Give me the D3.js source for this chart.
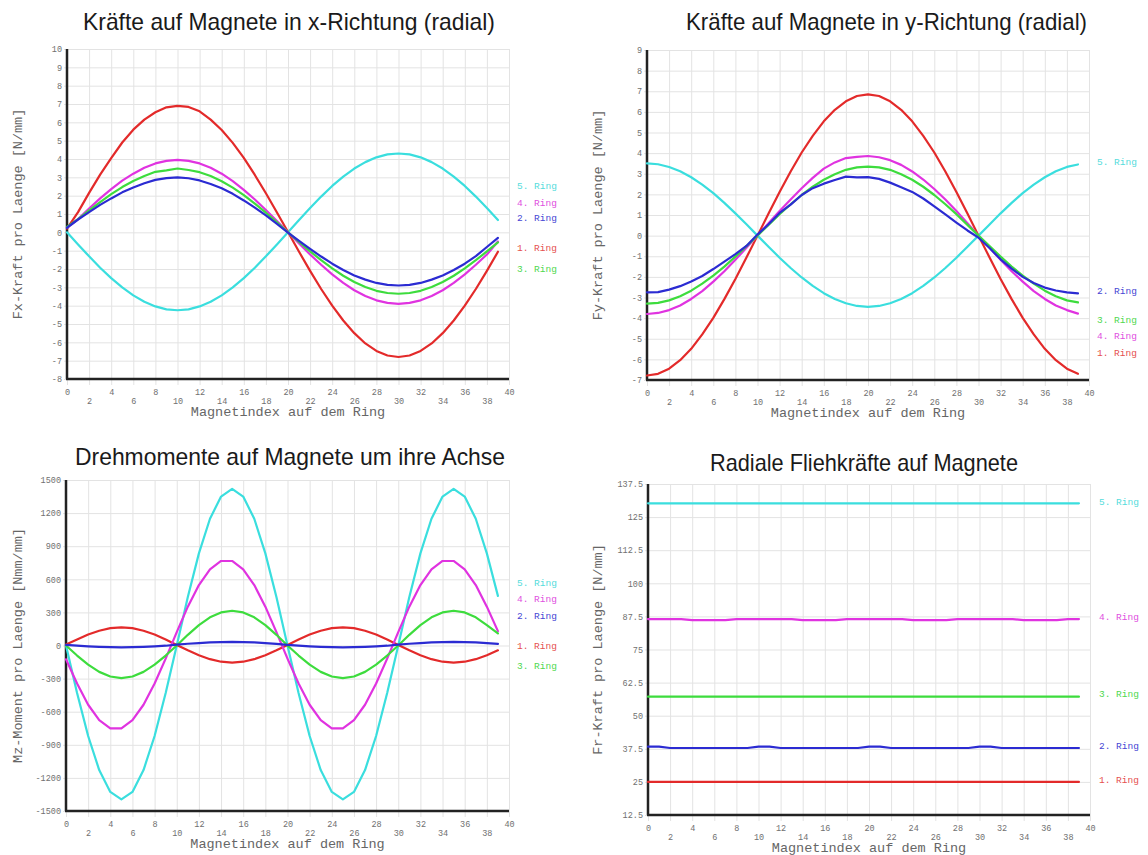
<!DOCTYPE html>
<html>
<head>
<meta charset="utf-8">
<script src="https://cdn.jsdelivr.net/npm/d3@7"></script>
<style>
  body { margin: 0; background: #fff; }
  svg { display: block; }
</style>
</head>
<body>
<svg id="chart" width="1148" height="855"></svg>
<script>
// ---- data ---------------------------------------------------------------
const magnetIndex = [0,1,2,3,4,5,6,7,8,9,10,11,12,13,14,15,16,17,18,19,
                     20,21,22,23,24,25,26,27,28,29,30,31,32,33,34,35,36,37,38,39];
const xTicks = [0,2,4,6,8,10,12,14,16,18,20,22,24,26,28,30,32,34,36,38,40];

const ringLabels = ["1. Ring", "2. Ring", "3. Ring", "4. Ring", "5. Ring"];

// Fx force per length [N/mm]
const fxTicks = [-8,-7,-6,-5,-4,-3,-2,-1,0,1,2,3,4,5,6,7,8,9,10];
const fxRing1 = [0.2, 1.1, 2.15, 3.15, 4.05, 4.9, 5.6, 6.15, 6.55, 6.82, 6.9, 6.84, 6.6, 6.15, 5.58, 4.88, 4.06, 3.13, 2.13, 1.08,
                 0.02, -1.06, -2.1, -3.09, -4.0, -4.81, -5.5, -6.06, -6.47, -6.72, -6.8, -6.72, -6.47, -6.06, -5.5, -4.81, -4.0, -3.09, -2.1, -1.06];
const fxRing2 = [0.25, 0.7, 1.1, 1.5, 1.85, 2.18, 2.45, 2.68, 2.86, 2.96, 3.0, 2.95, 2.83, 2.64, 2.4, 2.1, 1.74, 1.35, 0.92, 0.46,
                 -0.02, -0.46, -0.9, -1.32, -1.71, -2.05, -2.35, -2.58, -2.76, -2.87, -2.9, -2.87, -2.76, -2.58, -2.35, -2.05, -1.71, -1.3, -0.8, -0.3];
const fxRing3 = [0.3, 0.72, 1.2, 1.65, 2.08, 2.47, 2.8, 3.07, 3.3, 3.38, 3.48, 3.4, 3.28, 3.07, 2.79, 2.44, 2.03, 1.57, 1.07, 0.54,
                 0.0, -0.52, -1.04, -1.52, -1.97, -2.37, -2.71, -2.98, -3.19, -3.31, -3.35, -3.31, -3.19, -2.98, -2.71, -2.37, -1.97, -1.52, -1.04, -0.55];
const fxRing4 = [0.25, 0.72, 1.3, 1.85, 2.36, 2.82, 3.2, 3.52, 3.76, 3.9, 3.95, 3.9, 3.76, 3.52, 3.2, 2.79, 2.32, 1.79, 1.22, 0.62,
                 0.0, -0.61, -1.21, -1.77, -2.29, -2.76, -3.16, -3.47, -3.71, -3.85, -3.9, -3.85, -3.71, -3.47, -3.16, -2.76, -2.29, -1.77, -1.21, -0.5];
const fxRing5 = [0.0, -0.66, -1.31, -1.93, -2.5, -3.0, -3.44, -3.79, -4.04, -4.2, -4.25, -4.2, -4.04, -3.79, -3.44, -3.0, -2.5, -1.93, -1.31, -0.66,
                 0.0, 0.67, 1.33, 1.95, 2.53, 3.04, 3.48, 3.83, 4.09, 4.25, 4.3, 4.25, 4.09, 3.83, 3.48, 3.04, 2.53, 1.95, 1.33, 0.67];

// Fy force per length [N/mm]
const fyTicks = [-7,-6,-5,-4,-3,-2,-1,0,1,2,3,4,5,6,7,8,9];
const fyRing1 = [-6.78, -6.7, -6.45, -6.04, -5.49, -4.79, -3.99, -3.08, -2.1, -1.06, 0.0, 1.07, 2.12, 3.11, 4.03, 4.84, 5.54, 6.1, 6.51, 6.77,
                 6.85, 6.77, 6.51, 6.1, 5.54, 4.84, 4.03, 3.11, 2.12, 1.07, 0.0, -1.06, -2.1, -3.08, -3.99, -4.79, -5.49, -6.04, -6.45, -6.7];
const fyRing2 = [-2.75, -2.74, -2.62, -2.45, -2.22, -1.96, -1.62, -1.26, -0.9, -0.5, 0.05, 0.55, 1.1, 1.5, 1.97, 2.3, 2.52, 2.7, 2.86, 2.82,
                 2.84, 2.75, 2.57, 2.35, 2.12, 1.8, 1.42, 1.03, 0.63, 0.25, -0.1, -0.6, -1.15, -1.6, -2.0, -2.3, -2.52, -2.66, -2.75, -2.8];
const fyRing3 = [-3.3, -3.26, -3.14, -2.94, -2.67, -2.33, -1.94, -1.5, -1.02, -0.51, 0.0, 0.52, 1.04, 1.52, 1.97, 2.37, 2.71, 2.98, 3.19, 3.31,
                 3.35, 3.31, 3.19, 2.98, 2.71, 2.37, 1.97, 1.52, 1.04, 0.52, 0.0, -0.51, -1.02, -1.5, -1.94, -2.33, -2.67, -2.94, -3.14, -3.24];
const fyRing4 = [-3.8, -3.75, -3.61, -3.39, -3.07, -2.69, -2.23, -1.73, -1.17, -0.59, 0.0, 0.6, 1.19, 1.75, 2.3, 2.8, 3.25, 3.55, 3.76, 3.82,
                 3.86, 3.8, 3.66, 3.43, 3.11, 2.72, 2.26, 1.75, 1.19, 0.6, 0.0, -0.59, -1.17, -1.73, -2.23, -2.69, -3.07, -3.39, -3.61, -3.78];
const fyRing5 = [3.5, 3.46, 3.33, 3.12, 2.83, 2.47, 2.06, 1.59, 1.08, 0.55, 0.0, -0.54, -1.07, -1.57, -2.03, -2.44, -2.79, -3.07, -3.28, -3.41,
                 -3.45, -3.41, -3.28, -3.07, -2.79, -2.44, -2.03, -1.57, -1.07, -0.54, 0.0, 0.54, 1.08, 1.59, 2.06, 2.47, 2.83, 3.12, 3.33, 3.45];

// Mz torque per length [Nmm/mm]
const mzTicks = [-1500,-1200,-900,-600,-300,0,300,600,900,1200,1500];
const mzRing1 = [10, 54, 99, 134, 157, 165, 157, 134, 99, 54, 5, -44, -89, -124, -147, -155, -147, -124, -89, -44,
                 5, 54, 99, 134, 157, 165, 157, 134, 99, 54, 5, -44, -89, -124, -147, -155, -147, -124, -89, -44];
const mzRing2 = [5, -2, -8, -12, -15, -17, -15, -12, -8, -2, 8, 16, 22, 28, 31, 33, 31, 28, 22, 15,
                 5, -2, -8, -12, -15, -17, -15, -12, -8, -2, 8, 16, 22, 28, 31, 33, 31, 28, 22, 15];
const mzRing3 = [0, -91, -173, -239, -281, -295, -281, -239, -173, -91, 0, 97, 185, 255, 300, 315, 300, 255, 185, 97,
                 0, -91, -173, -239, -281, -295, -281, -239, -173, -91, 0, 97, 185, 255, 300, 315, 300, 255, 185, 110];
const mzRing4 = [-125, -345, -537, -677, -751, -751, -677, -537, -345, -119, 121, 352, 548, 691, 766, 766, 691, 548, 352, 121,
                 -119, -345, -537, -677, -751, -751, -677, -537, -345, -119, 121, 352, 548, 691, 766, 766, 691, 548, 352, 130];
const mzRing5 = [0, -431, -820, -1129, -1327, -1395, -1327, -1129, -820, -431, 0, 439, 835, 1149, 1350, 1420, 1350, 1149, 835, 439,
                 0, -431, -820, -1129, -1327, -1395, -1327, -1129, -820, -431, 0, 439, 835, 1149, 1350, 1420, 1350, 1149, 835, 450];

// Fr centrifugal force per length [N/mm]
const frTicks = [12.5, 25, 37.5, 50, 62.5, 75, 87.5, 100, 112.5, 125, 137.5];
const frRing1 = [25, 25, 25, 25, 25, 25, 25, 25, 25, 25, 25, 25, 25, 25, 25, 25, 25, 25, 25, 25,
                 25, 25, 25, 25, 25, 25, 25, 25, 25, 25, 25, 25, 25, 25, 25, 25, 25, 25, 25, 25];
const frRing2 = [38.3, 38.3, 37.8, 37.8, 37.8, 37.8, 37.8, 37.8, 37.8, 37.8, 38.3, 38.3, 37.8, 37.8, 37.8, 37.8, 37.8, 37.8, 37.8, 37.8,
                 38.3, 38.3, 37.8, 37.8, 37.8, 37.8, 37.8, 37.8, 37.8, 37.8, 38.3, 38.3, 37.8, 37.8, 37.8, 37.8, 37.8, 37.8, 37.8, 37.8];
const frRing3 = [57.2, 57.2, 57.2, 57.2, 57.2, 57.2, 57.2, 57.2, 57.2, 57.2, 57.2, 57.2, 57.2, 57.2, 57.2, 57.2, 57.2, 57.2, 57.2, 57.2,
                 57.2, 57.2, 57.2, 57.2, 57.2, 57.2, 57.2, 57.2, 57.2, 57.2, 57.2, 57.2, 57.2, 57.2, 57.2, 57.2, 57.2, 57.2, 57.2, 57.2];
const frRing4 = [86.5, 86.5, 86.5, 86.5, 86.1, 86.1, 86.1, 86.1, 86.5, 86.5, 86.5, 86.5, 86.5, 86.5, 86.1, 86.1, 86.1, 86.1, 86.5, 86.5,
                 86.5, 86.5, 86.5, 86.5, 86.1, 86.1, 86.1, 86.1, 86.5, 86.5, 86.5, 86.5, 86.5, 86.5, 86.1, 86.1, 86.1, 86.1, 86.5, 86.5];
const frRing5 = [130.2, 130.2, 130.2, 130.2, 130.2, 130.2, 130.2, 130.2, 130.2, 130.2, 130.2, 130.2, 130.2, 130.2, 130.2, 130.2, 130.2, 130.2, 130.2, 130.2,
                 130.2, 130.2, 130.2, 130.2, 130.2, 130.2, 130.2, 130.2, 130.2, 130.2, 130.2, 130.2, 130.2, 130.2, 130.2, 130.2, 130.2, 130.2, 130.2, 130.2];

// ---- styling / layout -----------------------------------------------------
const ringColors = ["#e32a2a", "#2b2bd2", "#3ddc3d", "#e033e0", "#3adede"];
const ringTextColors = ["#e55050", "#4646d4", "#4fd84f", "#e04fe0", "#55dcdc"];
const drawOrder = [4, 0, 3, 2, 1];

const panels = [
  { title: "Kräfte auf Magnete in x-Richtung (radial)", titleSpan: [83, 495], titleBase: 30,
    yTitle: "Fx-Kraft pro Laenge [N/mm]", yTicks: fxTicks,
    series: [fxRing1, fxRing2, fxRing3, fxRing4, fxRing5],
    box: { left: 67, right: 509, top: 49, bottom: 379 }, yTitleX: 17,
    legendX: 517, legendY: [248, 218, 269, 202.5, 185.5] },
  { title: "Kräfte auf Magnete in y-Richtung (radial)", titleSpan: [686, 1087], titleBase: 30,
    yTitle: "Fy-Kraft pro Laenge [N/mm]", yTicks: fyTicks,
    series: [fyRing1, fyRing2, fyRing3, fyRing4, fyRing5],
    box: { left: 647, right: 1089, top: 50, bottom: 380 }, yTitleX: 597,
    legendX: 1097, legendY: [352.5, 290.5, 319.5, 336, 161.5] },
  { title: "Drehmomente auf Magnete um ihre Achse", titleSpan: [75, 505], titleBase: 465,
    yTitle: "Mz-Moment pro Laenge [Nmm/mm]", yTicks: mzTicks,
    series: [mzRing1, mzRing2, mzRing3, mzRing4, mzRing5],
    box: { left: 66, right: 509, top: 480, bottom: 811 }, yTitleX: 17,
    legendX: 517, legendY: [645.5, 615.5, 665.5, 598.5, 582.5] },
  { title: "Radiale Fliehkräfte auf Magnete", titleSpan: [710, 1018], titleBase: 471,
    yTitle: "Fr-Kraft pro Laenge [N/mm]", yTicks: frTicks,
    series: [frRing1, frRing2, frRing3, frRing4, frRing5],
    box: { left: 648, right: 1090, top: 484, bottom: 815 }, yTitleX: 597,
    legendX: 1099, legendY: [779.5, 745.5, 693.5, 617, 501.5] }
];

const monoFont = "'Liberation Mono', 'DejaVu Sans Mono', monospace";
const sansFont = "'Liberation Sans', Arial, sans-serif";

// ---- drawing --------------------------------------------------------------
const svg = d3.select("#chart");
svg.append("rect").attr("width", 1148).attr("height", 855).attr("fill", "#fff");

panels.forEach(p => {
  const b = p.box;
  const w = b.right - b.left, h = b.bottom - b.top;
  const x = d3.scaleLinear().domain([0, 40]).range([b.left, b.right]);
  const y = d3.scaleLinear().domain(d3.extent(p.yTicks)).range([b.bottom, b.top]);

  const g = svg.append("g");

  // horizontal grid + y tick labels
  const yAxis = d3.axisLeft(y).tickValues(p.yTicks).tickSizeInner(-w).tickSizeOuter(0)
    .tickFormat(d => String(d));
  const gy = g.append("g").attr("transform", `translate(${b.left},0)`).call(yAxis);
  gy.select(".domain").remove();
  gy.selectAll(".tick line").attr("x1", -3).attr("stroke", "#e3e3e3").attr("stroke-width", 1);
  gy.selectAll(".tick text")
    .attr("x", -5).attr("dy", "0.32em")
    .attr("font-family", monoFont).attr("font-size", 8.5).attr("fill", "#707070")
    .attr("text-anchor", "end");

  // vertical grid + staggered x tick labels
  const xAxis = d3.axisBottom(x).tickValues(xTicks).tickSizeInner(-h).tickSizeOuter(0)
    .tickFormat(d => String(d));
  const gx = g.append("g").attr("transform", `translate(0,${b.bottom})`).call(xAxis);
  gx.select(".domain").remove();
  gx.selectAll(".tick line").attr("y1", 6).attr("stroke", "#e3e3e3").attr("stroke-width", 1);
  gx.selectAll(".tick text")
    .attr("y", (d, i) => (i % 2 === 0 ? 13 : 22)).attr("dy", "0.32em")
    .attr("font-family", monoFont).attr("font-size", 8.5).attr("fill", "#707070");

  // axis lines
  g.append("line").attr("x1", b.left).attr("x2", b.left).attr("y1", b.top).attr("y2", b.bottom)
    .attr("stroke", "#222").attr("stroke-width", 2.5);
  g.append("line").attr("x1", b.left - 1).attr("x2", b.right).attr("y1", b.bottom).attr("y2", b.bottom)
    .attr("stroke", "#222").attr("stroke-width", 2.5);

  // series lines
  const line = d3.line().x((d, i) => x(magnetIndex[i])).y(d => y(d));
  drawOrder.forEach(k => {
    g.append("path").datum(p.series[k])
      .attr("d", line)
      .attr("fill", "none")
      .attr("stroke", ringColors[k])
      .attr("stroke-width", 2.2)
      .attr("stroke-linejoin", "round")
      .attr("stroke-linecap", "round");
  });

  // series labels
  ringLabels.forEach((lab, k) => {
    g.append("text").attr("x", p.legendX).attr("y", p.legendY[k]).attr("dy", "0.35em")
      .attr("font-family", monoFont).attr("font-size", 9.5)
      .attr("fill", ringTextColors[k]).text(lab);
  });

  // axis titles
  g.append("text")
    .attr("x", (b.left + b.right) / 2).attr("y", b.bottom + 32).attr("dy", "0.35em")
    .attr("text-anchor", "middle")
    .attr("font-family", monoFont).attr("font-size", 13.5).attr("fill", "#666")
    .text("Magnetindex auf dem Ring");
  g.append("text")
    .attr("transform", `translate(${p.yTitleX},${(b.top + b.bottom) / 2}) rotate(-90)`)
    .attr("dy", "0.35em").attr("text-anchor", "middle")
    .attr("font-family", monoFont).attr("font-size", 13.5).attr("fill", "#666")
    .text(p.yTitle);

  // chart title
  g.append("text")
    .attr("x", p.titleSpan[0]).attr("y", p.titleBase)
    .attr("textLength", p.titleSpan[1] - p.titleSpan[0])
    .attr("lengthAdjust", "spacingAndGlyphs")
    .attr("font-family", sansFont).attr("font-size", 24).attr("fill", "#1a1a1a")
    .text(p.title);
});
</script>
</body>
</html>
